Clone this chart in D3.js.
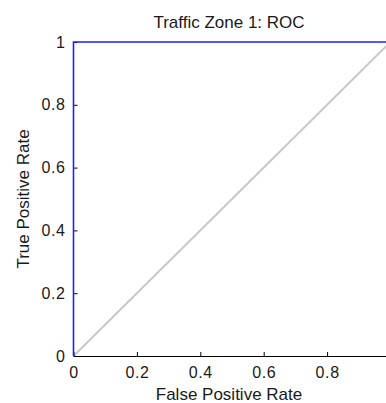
<!DOCTYPE html>
<html>
<head>
<meta charset="utf-8">
<script src="https://cdn.jsdelivr.net/npm/d3@7"></script>
<style>
  body { margin: 0; background: #fff; }
  text { font-family: "Liberation Sans", Arial, sans-serif; fill: #1a1a1a; }
</style>
</head>
<body>
<div id="chart"></div>
<script>
// ROC curve points (false positive rate, true positive rate)
var rocFpr = [0, 0, 1];
var rocTpr = [0, 1, 1];
// chance diagonal
var diagFpr = [0, 0.5, 1];
var diagTpr = [0, 0.5, 1];
var tickValues = [0, 0.2, 0.4, 0.6, 0.8];
var yTickValues = [0, 0.2, 0.4, 0.6, 0.8, 1];

var width = 386, height = 403;
var margin = {left: 73.5, top: 42, bottom: 47};

var svg = d3.select("#chart").append("svg")
    .attr("width", width)
    .attr("height", height);

var x = d3.scaleLinear().domain([0, 1]).range([margin.left, margin.left + 317]);
var y = d3.scaleLinear().domain([0, 1]).range([height - margin.bottom, margin.top]);

var line = d3.line().x(d => x(d[0])).y(d => y(d[1]));

// diagonal
svg.append("path")
    .datum(d3.zip(diagFpr, diagTpr))
    .attr("d", line)
    .attr("fill", "none")
    .attr("stroke", "#c8c8c8")
    .attr("stroke-width", 2);

// x axis
var xAxis = svg.append("g")
    .attr("transform", "translate(0," + y(0) + ")")
    .call(d3.axisBottom(x).tickValues(tickValues).tickSizeInner(-4).tickSizeOuter(0).tickPadding(11)
        .tickFormat(d => d === 0 ? "0" : d3.format(".1f")(d)));
xAxis.select(".domain").attr("stroke", "#000").attr("stroke-width", 1.2);
xAxis.selectAll("text").style("font-size", "16px").style("letter-spacing", "0.6px");

// y axis
var yAxis = svg.append("g")
    .attr("transform", "translate(" + x(0) + ",0)")
    .call(d3.axisLeft(y).tickValues(yTickValues).tickSizeInner(-4).tickSizeOuter(0).tickPadding(8)
        .tickFormat(d => (d === 0 || d === 1) ? d3.format("d")(d) : d3.format(".1f")(d)));
yAxis.select(".domain").remove();
yAxis.selectAll("text").style("font-size", "16px").style("letter-spacing", "0.6px");

// ROC curve
svg.append("path")
    .datum(d3.zip(rocFpr, rocTpr))
    .attr("d", line)
    .attr("fill", "none")
    .attr("stroke", "#2020ff")
    .attr("stroke-width", 1.6);

// title and labels
svg.append("text")
    .attr("x", 229).attr("y", 27.5)
    .attr("text-anchor", "middle")
    .style("font-size", "17px")
    .text("Traffic Zone 1: ROC");

svg.append("text")
    .attr("x", 229).attr("y", 399.5)
    .attr("text-anchor", "middle")
    .style("font-size", "17px")
    .text("False Positive Rate");

svg.append("text")
    .attr("transform", "translate(29," + y(0.5) + ") rotate(-90)")
    .attr("text-anchor", "middle")
    .style("font-size", "17px")
    .text("True Positive Rate");
</script>
</body>
</html>
